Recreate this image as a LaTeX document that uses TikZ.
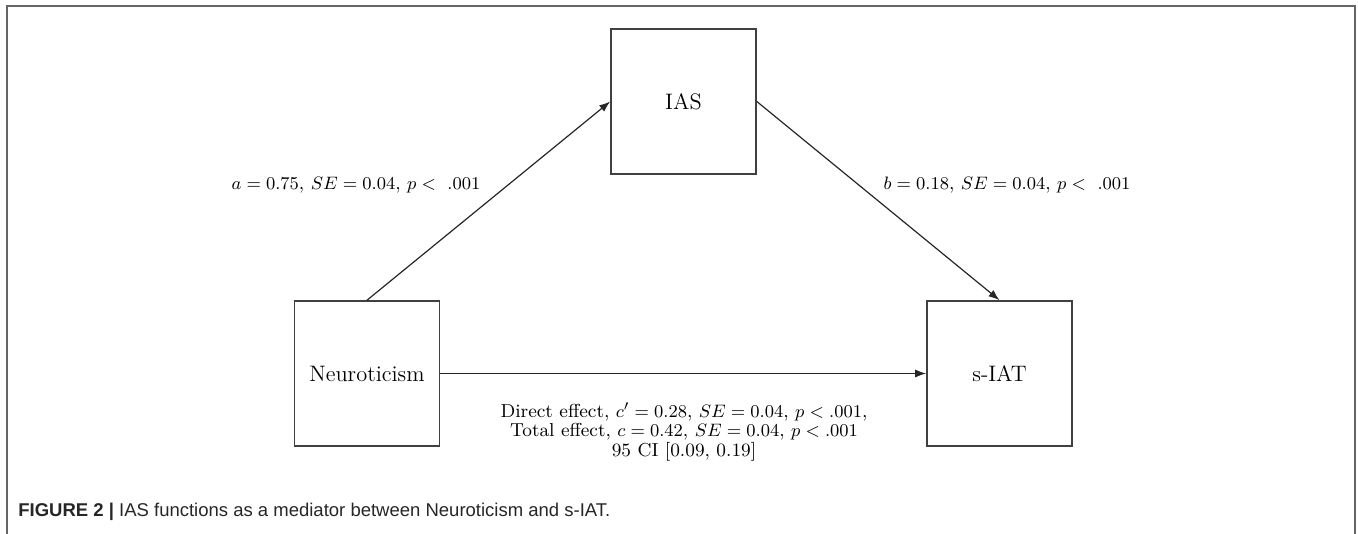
\documentclass[tikz,border=0pt]{standalone}
\usepackage{fontspec}
\newfontfamily\capfont{Liberation Sans}
\usetikzlibrary{arrows.meta}
\newcommand\tightlines{\lineskiplimit=-10pt\relax}
\begin{document}
\begin{tikzpicture}[x=0.5pt,y=-0.5pt,
  box/.style={draw=black!75, line width=0.8pt, minimum width=72.5pt, minimum height=72.5pt, inner sep=0pt, font=\fontsize{11.2}{13}\selectfont},
  conn/.style={draw=black!85, line width=0.6pt, -{Latex[length=5.5pt,width=4pt]}},
  lab/.style={font=\fontsize{9.4}{7.3}\selectfont, align=center, inner sep=0pt},
  frame/.style={draw=black!60, line width=1pt},
  caption/.style={font=\capfont\fontsize{9.25}{11}\selectfont, text=black!85, inner sep=0pt}]
\useasboundingbox (0,0) rectangle (1358,534);
\draw[frame] (7,534) -- (7,6) -- (1355,6) -- (1355,534);
\node[box] (ias) at (683.5,101.5) {IAS};
\node[box] (neu) at (367,373.5) {Neuroticism};
\node[box] (siat) at (999.5,373.5) {s-IAT};
\draw[conn] (neu.north) -- (ias.west);
\draw[conn] (ias.east) -- (siat.north);
\draw[conn] (neu.east) -- (siat.west);
\node[lab, anchor=base] (la) at (356,190) {$a = 0.75$, $SE = 0.04$, $p <\ .001$};
\node[lab, anchor=base] (lb) at (1007,190) {$b = 0.18$, $SE = 0.04$, $p <\ .001$};
\node[lab, anchor=north] (lc) at (684,402) {\tightlines Direct effect, $c' = 0.28$, $SE = 0.04$, $p < .001$,\\Total effect, $c = 0.42$, $SE = 0.04$, $p < .001$\\95 CI [0.09, 0.19]};
\node[caption, anchor=base west] (cap) at (18,516) {\textbf{FIGURE 2 |} IAS functions as a mediator between Neuroticism and s-IAT.};
\end{tikzpicture}
\end{document}
